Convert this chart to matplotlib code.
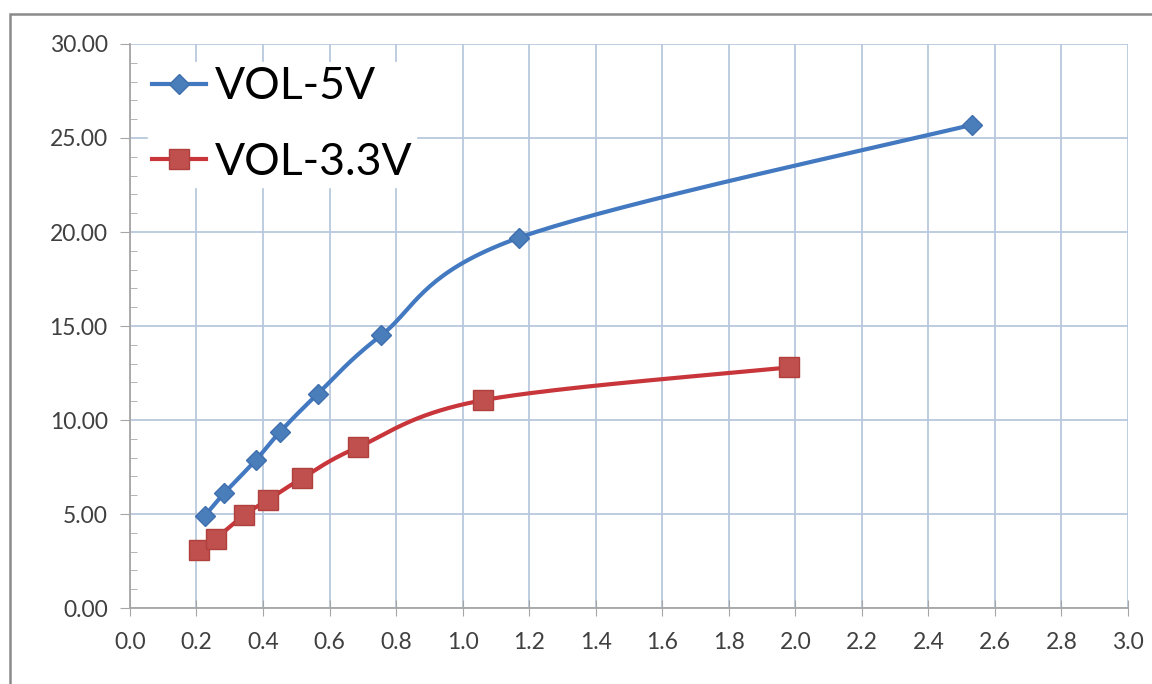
import numpy as np
import matplotlib
matplotlib.use("Agg")
from matplotlib import pyplot as plt
from matplotlib.patches import Rectangle
from matplotlib.ticker import MultipleLocator, FormatStrFormatter

plt.rcParams['font.family'] = ['Lato', 'DejaVu Sans']

vol5_x = [0.225, 0.283, 0.38, 0.45, 0.565, 0.755, 1.17, 2.53]
vol5_y = [4.9, 6.1, 7.9, 9.35, 11.4, 14.5, 19.7, 25.7]
vol33_x = [0.207, 0.258, 0.343, 0.415, 0.517, 0.685, 1.06, 1.98]
vol33_y = [3.1, 3.7, 4.95, 5.75, 6.9, 8.55, 11.05, 12.8]
labels = ['VOL-5V', 'VOL-3.3V']


def smooth(xs, ys, n=40):
    # excel-style smoothed line: catmull-rom as cubic bezier segments
    p = np.column_stack([xs, ys])
    p = np.vstack([p[0], p, p[-1]])
    out = []
    t = np.linspace(0, 1, n)[:, None]
    for i in range(1, len(p) - 2):
        p0, p1, p2, p3 = p[i - 1], p[i], p[i + 1], p[i + 2]
        c1 = p1 + (p2 - p0) / 6
        c2 = p2 - (p3 - p1) / 6
        seg = ((1 - t) ** 3) * p1 + 3 * ((1 - t) ** 2) * t * c1 + 3 * (1 - t) * t ** 2 * c2 + t ** 3 * p2
        out.append(seg)
    out = np.vstack(out)
    return out[:, 0], out[:, 1]


fig = plt.figure(figsize=(11.52, 6.84), dpi=100)
ax = fig.add_axes([0.1128, 0.111, 0.8663, 0.8247])

blue = '#4279c0'
red = '#c8353a'

sx, sy = smooth(vol5_x, vol5_y)
ax.plot(sx, sy, color=blue, lw=3.0, zorder=3)
ax.plot(vol5_x, vol5_y, ls='none', marker='D', ms=10.5, color='#4a7ebb', mec='#3f6fae', zorder=4)
sx, sy = smooth(vol33_x, vol33_y)
ax.plot(sx, sy, color=red, lw=3.0, zorder=3)
ax.plot(vol33_x, vol33_y, ls='none', marker='s', ms=15, color='#c0504d', mec='#b0403d', zorder=4)

# legend handles
h1, = ax.plot([], [], color=blue, lw=3.0, marker='D', ms=10.5, mfc='#4a7ebb', mec='#3f6fae')
h2, = ax.plot([], [], color=red, lw=3.0, marker='s', ms=15, mfc='#c0504d', mec='#b0403d')
leg = ax.legend([h1, h2], labels, loc='upper left', bbox_to_anchor=(0.0, 1.0),
                fontsize=32, frameon=True, handlelength=1.2, handletextpad=0.2,
                labelspacing=0.78, borderpad=0.1, borderaxespad=0.4, fancybox=False)
leg.get_frame().set_facecolor('white')
leg.get_frame().set_edgecolor('white')
leg.get_frame().set_alpha(1)
leg.set_zorder(5)

ax.set_xlim(0, 3.0)
ax.set_ylim(0, 30)
ax.xaxis.set_major_locator(MultipleLocator(0.2))
ax.yaxis.set_major_locator(MultipleLocator(5))
ax.yaxis.set_minor_locator(MultipleLocator(1))
ax.xaxis.set_major_formatter(FormatStrFormatter('%.1f'))
ax.yaxis.set_major_formatter(FormatStrFormatter('%.2f'))

ax.grid(True, which='major', color='#b8c8dc', lw=1.3, zorder=0)
ax.set_axisbelow(True)
for s in ['top', 'right']:
    ax.spines[s].set_visible(False)
for s in ['left', 'bottom']:
    ax.spines[s].set_color('#a6a6a6')
    ax.spines[s].set_linewidth(1.3)

ax.tick_params(axis='y', which='major', direction='out', length=7, color='#a6a6a6',
               labelsize=16.5, labelcolor='#404040', pad=9)
ax.tick_params(axis='y', which='minor', direction='in', length=5, color='#a6a6a6')
ax.tick_params(axis='x', which='major', direction='inout', length=12, color='#a6a6a6',
               labelsize=16.5, labelcolor='#404040', pad=11)

# outer chart border
fig.patches.append(Rectangle((10 / 1152, -0.05), 1.2, 1 - 14 / 684 + 0.05,
                             transform=fig.transFigure, fill=False,
                             edgecolor='#8a8a8a', lw=1.8))

fig.savefig('out.png', dpi=100)
